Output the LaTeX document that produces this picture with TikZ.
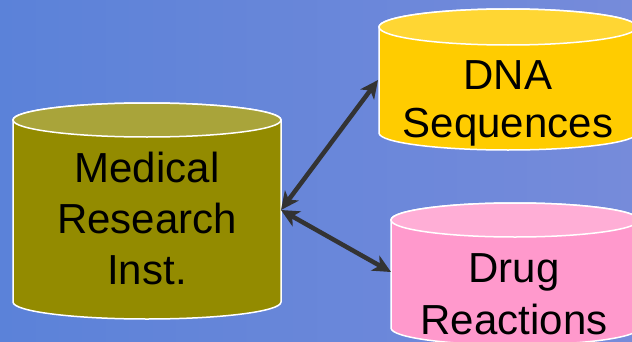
\documentclass[tikz,border=0pt]{standalone}
\usepackage{fontspec}
\setmainfont{Liberation Sans}
\usetikzlibrary{arrows.meta}
\definecolor{bgL}{HTML}{5B82D9}
\definecolor{bgR}{HTML}{768BDA}
\definecolor{oliveBody}{HTML}{938B00}
\definecolor{oliveTop}{HTML}{A9A43A}
\definecolor{yelBody}{HTML}{FFCC00}
\definecolor{yelTop}{HTML}{FFD633}
\definecolor{pinkBody}{HTML}{FF99CC}
\definecolor{pinkTop}{HTML}{FFAED6}
\definecolor{arrowGray}{HTML}{333333}
\tikzset{
  cylline/.style={draw=white, line width=1.5pt},
  cyltext/.style={inner sep=0pt, align=center, text=black},
  conn/.style={draw=arrowGray, line width=4.5pt,
    {Stealth[length=18pt,width=17pt,inset=5pt]}-{Stealth[length=18pt,width=17pt,inset=5pt]}}
}
\begin{document}
\begin{tikzpicture}[x=1pt,y=1pt]
\useasboundingbox (0,0) rectangle (632,341);
\clip (0,0) rectangle (632,341);
\shade[left color=bgL, right color=bgR] (0,0) rectangle (632,341);
% Medical Research Inst. cylinder
\path[cylline, fill=oliveBody] (13,221) -- (13,39)
  arc[start angle=180, end angle=360, x radius=134, y radius=17]
  -- (281,221)
  arc[start angle=0, end angle=180, x radius=134, y radius=17] -- cycle;
\path[cylline, fill=oliveTop] (147,221) ellipse[x radius=134, y radius=17];
% DNA cylinder
\path[cylline, fill=yelBody] (379,314) -- (379,208)
  arc[start angle=180, end angle=360, x radius=129, y radius=17]
  -- (637,314)
  arc[start angle=0, end angle=180, x radius=129, y radius=18] -- cycle;
\path[cylline, fill=yelTop] (508,314) ellipse[x radius=129, y radius=18];
% Drug cylinder
\path[cylline, fill=pinkBody] (391,121) -- (391,13)
  arc[start angle=180, end angle=360, x radius=124, y radius=17]
  -- (639,121)
  arc[start angle=0, end angle=180, x radius=124, y radius=17] -- cycle;
\path[cylline, fill=pinkTop] (515,121) ellipse[x radius=124, y radius=17];
% texts
\node[cyltext, font=\fontsize{42}{51}\selectfont] (mri) at (147,122.4) {Medical\\Research\\Inst.};
\node[cyltext, font=\fontsize{42}{48}\selectfont] (dna) at (508,238) {DNA\\Sequences};
\node[cyltext, font=\fontsize{42}{52}\selectfont] (drug) at (514,47) {Drug\\Reactions};
% connectors
\coordinate (mriE) at (281,131);
\coordinate (dnaW) at (378,261);
\coordinate (drugW) at (391,69);
\draw[conn] (mriE) -- (dnaW);
\draw[conn] (mriE) -- (drugW);
\end{tikzpicture}
\end{document}
